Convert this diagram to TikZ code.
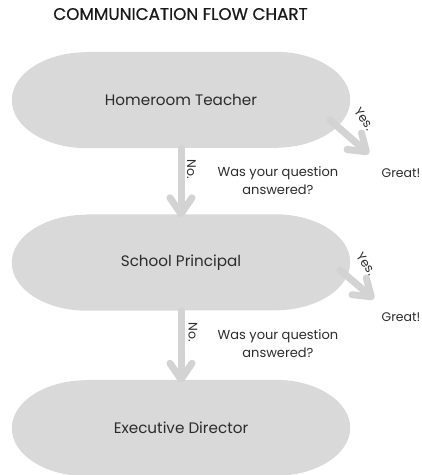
\documentclass[tikz,border=0pt]{standalone}
\usepackage{fontspec}
\setmainfont{Poppins}
\newfontfamily\titlefont[FakeBold=0.6]{Poppins}
\usetikzlibrary{arrows.meta,backgrounds}
\definecolor{boxfill}{HTML}{D9D9D9}
\definecolor{arrowgray}{HTML}{D3D3D3}
\definecolor{txt}{HTML}{2B2B2B}
\tikzset{
  box/.style={rectangle, minimum width=338pt, minimum height=96pt, inner sep=0pt,
    font=\fontsize{15.2}{18}\selectfont, text=txt},
  flow/.style={draw=arrowgray, line width=7pt, line cap=round,
    -{Straight Barb[length=16pt, width=22pt, line cap=round, line join=round]}},
  lbl/.style={font=\fontsize{13}{18}\selectfont, text=txt, inner sep=0pt, align=center},
  small/.style={font=\fontsize{12.5}{14}\selectfont, text=txt, inner sep=0pt},
}
\begin{document}
\begin{tikzpicture}[x=1pt, y=1pt]
\useasboundingbox (0,0) rectangle (422,-475);
\node[font=\titlefont\fontsize{16.8}{18}\selectfont, text=black!90, inner sep=0pt] (title) at (180.5,-14) {COMMUNICATION FLOW CHART};

\node[box] (ht) at (181,-100) {Homeroom Teacher};
\node[box] (sp) at (181,-262.5) {School Principal};
\node[box] (ed) at (181,-428) {Executive Director};

\begin{scope}[on background layer]
\foreach \n in {ht,sp,ed}{
  \fill[boxfill] ([xshift=75pt]\n.north west) -- ([xshift=-75pt]\n.north east)
    arc[start angle=90, end angle=-90, x radius=75pt, y radius=48pt]
    -- ([xshift=75pt]\n.south west)
    arc[start angle=270, end angle=90, x radius=75pt, y radius=48pt] -- cycle;
}
\end{scope}

\coordinate (y1s) at (330,-120);
\coordinate (y1e) at (369,-154);
\coordinate (y2s) at (340,-270);
\coordinate (y2e) at (374,-299);

\draw[flow] (ht.south) -- ([yshift=-3pt]sp.north);
\draw[flow] (sp.south) -- ([yshift=-3pt]ed.north);
\draw[flow] (y1s) -- (y1e);
\draw[flow] (y2s) -- (y2e);

\node[small, rotate=-90] (no1) at (191.5,-169) {No.};
\node[small, rotate=-90] (no2) at (193,-332) {No.};
\node[small, rotate=-55] (yes1) at (364,-119) {Yes.};
\node[small, rotate=-55] (yes2) at (366,-264) {Yes.};

\node[lbl] (q1) at (278,-181) {Was your question\\answered?};
\node[lbl] (q2) at (278,-344) {Was your question\\answered?};

\node[small] (g1) at (401,-173) {Great!};
\node[small] (g2) at (401,-317) {Great!};
\end{tikzpicture}
\end{document}
